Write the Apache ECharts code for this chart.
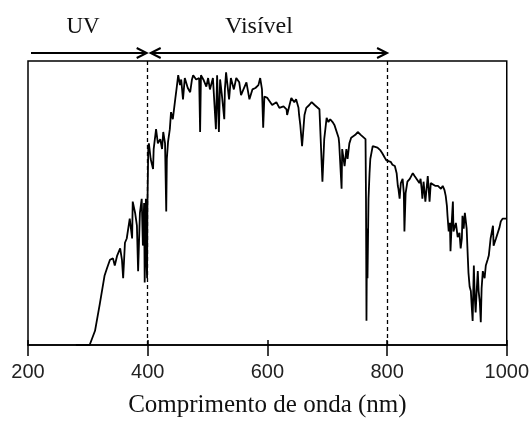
<!DOCTYPE html>
<html><head><meta charset="utf-8">
<script src="https://cdn.jsdelivr.net/npm/echarts@6/dist/echarts.min.js"></script>
<style>html,body{margin:0;padding:0;background:#fff}#c{width:532px;height:423px}</style>
</head><body><div id="c"></div>
<script>
// Wavelength (nm)
const wavelength = [
 280,290,303,312,320,328,332,337,342,345,349,354,357,359,362,365,370,374,375,379,382,384,387,390,392,394,395,396,397,398,399,399.5,
 401,402,405,409,410,414,417,421,424,426,429,431,432,434,437,439,442,446,449,451,454,456,459,462,464,467,471,474,476,481,486,487.6,489,
 493,498,501,504,509,514,516,519,521,524,528,529,531,536,539,544,548,553,556,560,565,570,575,580,585,588,591,593,595,600,603,608,615,
 620,627,632,633,637,640,645,648,652,653,655,658,662,665,670,674,679,682,687,690,692,695,699,702,705,709,712,715,719,720,724,725,729,
 732,734,737,740,742,747,751,756,759,764,764.8,765.6,766.5,767.3,769,770.7,772,776,779,784,789,792,796,799,802,806,809,813,816,818,819,
 821,823,826,828,829,831,834,838,843,846,849,854,856,858,859,861,864,868,871,873,876,881,885,890,893,896,898,900,901,903,905,906,908,
 910,911,915,918,921,923,925,926,928,930,931,933,935,936,938,940,941.5,943,945,946.5,948,950,951.6,953,955,956.6,958,960,963,965,968,
 970,973,977,978,982,985,988,990,993,998,1000
];
// Spectral irradiance (arbitrary units, axis 0–2)
const irradiance = [
 0,0,0,0.10,0.29,0.49,0.54,0.60,0.61,0.56,0.63,0.68,0.60,0.47,0.72,0.75,0.89,0.75,1.01,0.93,0.84,0.52,0.93,1.03,0.70,1.00,0.44,0.75,1.03,0.60,0.47,0.95,
 1.40,1.42,1.31,1.24,1.38,1.52,1.42,1.45,1.38,1.50,1.42,0.94,1.31,1.43,1.52,1.64,1.59,1.73,1.83,1.90,1.83,1.87,1.73,1.88,1.88,1.81,1.78,1.87,1.90,1.87,1.88,1.50,1.90,
 1.87,1.82,1.88,1.80,1.88,1.52,1.90,1.50,1.87,1.76,1.59,1.80,1.92,1.73,1.88,1.80,1.88,1.85,1.76,1.80,1.85,1.73,1.80,1.81,1.83,1.88,1.80,1.53,1.75,1.74,1.73,1.69,1.71,
 1.67,1.68,1.66,1.62,1.69,1.74,1.71,1.73,1.67,1.62,1.55,1.40,1.62,1.67,1.69,1.71,1.69,1.68,1.66,1.65,1.15,1.45,1.60,1.57,1.59,1.57,1.55,1.54,1.46,1.42,1.10,1.38,1.26,
 1.38,1.31,1.42,1.46,1.45,1.48,1.50,1.48,1.47,1.45,1.03,0.17,0.82,0.47,1.03,1.21,1.31,1.40,1.41,1.39,1.37,1.35,1.32,1.30,1.31,1.29,1.27,1.26,1.21,1.12,1.10,
 1.03,1.14,1.17,1.07,0.80,1.07,1.15,1.17,1.21,1.19,1.18,1.14,1.17,1.09,1.03,1.15,1.01,1.19,1.01,1.14,1.15,1.12,1.12,1.10,1.12,1.09,1.05,0.98,0.91,0.80,0.86,0.66,0.86,
 1.01,0.80,0.86,0.76,0.79,0.68,0.75,0.91,0.82,0.93,0.94,0.82,0.61,0.51,0.41,0.38,0.27,0.17,0.56,0.34,0.23,0.40,0.52,0.38,0.30,0.16,0.40,0.52,0.47,0.56,0.60,
 0.63,0.75,0.84,0.70,0.75,0.75,0.83,0.87,0.89,0.89,0.89
];
const xTicks = [200, 400, 600, 800, 1000];
const dashedAt = [400, 800];
const uvRange = [200, 400];
const visRange = [400, 800];
const uvLabel = 'UV';
const visLabel = 'Visível';
const xTitle = 'Comprimento de onda (nm)';

const chart = echarts.init(document.getElementById('c'), null, {renderer: 'canvas'});
const data = wavelength.map((w, i) => [w, irradiance[i]]);
chart.setOption({
  animation: false,
  backgroundColor: '#fff',
  grid: {left: 28, right: 25, top: 61, bottom: 75, show: true, borderColor: '#000', borderWidth: 1.5},
  xAxis: [{
    type: 'value', min: xTicks[0], max: xTicks[xTicks.length - 1], interval: 200,
    axisLine: {lineStyle: {color: '#000', width: 1.5}},
    axisTick: {length: 11, lineStyle: {color: '#000', width: 1.5}},
    axisLabel: {margin: 17, fontFamily: 'Liberation Sans', fontSize: 20, color: '#222', formatter: v => String(v)},
    splitLine: {show: false},
    name: xTitle, nameLocation: 'middle', nameGap: 48,
    nameTextStyle: {fontFamily: 'Liberation Serif', fontSize: 25, color: '#111'}
  }, {
    type: 'value', position: 'bottom', min: xTicks[0], max: xTicks[xTicks.length - 1], interval: 200,
    axisLine: {show: false},
    axisTick: {inside: true, length: 5, lineStyle: {color: '#000', width: 1.5}},
    axisLabel: {show: false}, splitLine: {show: false}
  }],
  yAxis: {type: 'value', min: 0, max: 2, show: false},
  series: [{
    type: 'line', data: data, symbol: 'none', showSymbol: false,
    lineStyle: {color: '#000', width: 1.8},
    markLine: {
      silent: true, symbol: 'none', label: {show: false},
      lineStyle: {color: '#000', type: [4, 3], width: 1.3},
      data: dashedAt.map(v => ({xAxis: v}))
    }
  }]
});

const px = v => chart.convertToPixel({xAxisIndex: 0}, v);
const arrowY = 53;
function head(x, dir) {
  return {type: 'polyline', shape: {points: [[x - dir * 10, arrowY - 5], [x, arrowY], [x - dir * 10, arrowY + 5]]},
    style: {stroke: '#000', lineWidth: 2, fill: null}};
}
function shaft(x1, x2) {
  return {type: 'line', shape: {x1: x1, y1: arrowY, x2: x2, y2: arrowY}, style: {stroke: '#000', lineWidth: 2}};
}
const uvA = px(uvRange[0]) + 3, uvB = px(uvRange[1]) - 1;
const vA = px(visRange[0]) + 3, vB = px(visRange[1]);
chart.setOption({
  graphic: [
    shaft(uvA, uvB), head(uvB, 1),
    shaft(vA, vB), head(vA, -1), head(vB, 1),
    {type: 'text', x: 83, y: 27, style: {text: uvLabel, font: '23px "Liberation Serif"', fill: '#111', align: 'center', verticalAlign: 'middle'}},
    {type: 'text', x: 259, y: 27, style: {text: visLabel, font: '24px "Liberation Serif"', fill: '#111', align: 'center', verticalAlign: 'middle'}}
  ]
});
</script>
</body></html>
